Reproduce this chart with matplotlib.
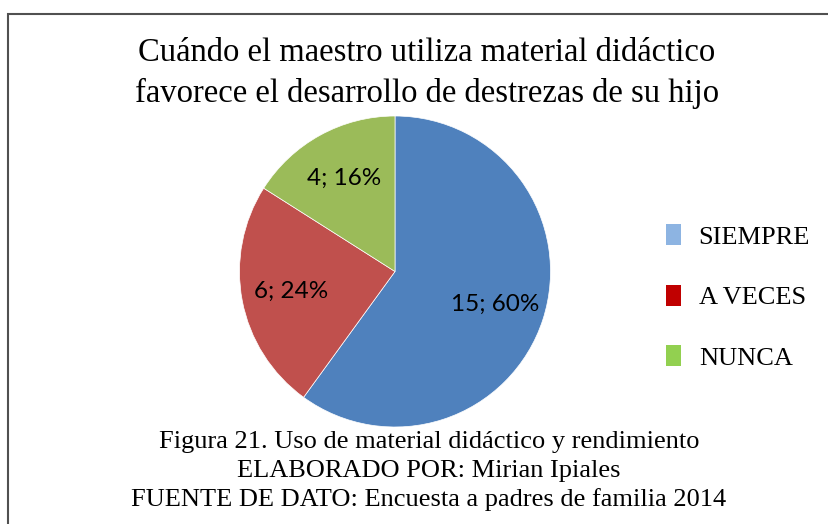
import matplotlib
matplotlib.use("Agg")
import matplotlib.pyplot as plt
from matplotlib.patches import Patch, Rectangle

# data
categories = ["SIEMPRE", "A VECES", "NUNCA"]
values = [15, 6, 4]
pie_colors = ["#4F81BD", "#C0504D", "#9BBB59"]
legend_colors = ["#8DB4E2", "#C00000", "#92D050"]

title = "Cuándo el maestro utiliza material didáctico\nfavorece el desarrollo de destrezas de su hijo"
caption = ["Figura 21. Uso de material didáctico y rendimiento",
           "ELABORADO POR: Mirian Ipiales",
           "FUENTE DE DATO: Encuesta a padres de familia 2014"]

W, H = 829, 524
fig = plt.figure(figsize=(W / 100, H / 100), dpi=100)
fig.patch.set_facecolor("white")

serif = "Liberation Serif"
total = sum(values)

# pie axes: center ~(395, 271), radius ~155 px
ax = fig.add_axes([239.5 / W, 97 / H, 311 / W, 311 / H])
wedges, texts, autotexts = ax.pie(
    values, colors=pie_colors, startangle=90, counterclock=False,
    autopct=lambda p: f"{round(p * total / 100)}; {p:.0f}%",
    pctdistance=0.68, radius=1,
    wedgeprops=dict(linewidth=0.5, edgecolor="white"),
    textprops=dict(family="Lato", fontsize=17.5, color="black"))
ax.set_xlim(-1, 1)
ax.set_ylim(-1, 1)
ax.set_aspect("equal")

# title
fig.text(427 / W, 1 - 73 / H, title, ha="center", va="center",
         family=serif, fontsize=23.5, linespacing=1.4)

# caption
for i, line in enumerate(caption):
    fig.text(429 / W, 1 - (442 + 29 * i) / H, line, ha="center", va="center",
             family=serif, fontsize=19)

# legend
handles = [Patch(facecolor=c, edgecolor="none") for c in legend_colors]
fig.legend(handles, categories, loc="center left",
           bbox_to_anchor=(666 / W, 1 - 297 / H), frameon=False,
           prop=dict(family=serif, size=19),
           handlelength=0.58, handleheight=0.85, handletextpad=0.66,
           labelspacing=1.35, borderpad=0, borderaxespad=0)

# outer border (only top/left visible)
fig.patches.append(Rectangle((8 / W, -0.2), 1.2, 1.2 - 14 / H,
                             transform=fig.transFigure, fill=False,
                             edgecolor="#505050", linewidth=1.5))

fig.savefig("out.png", dpi=100, facecolor="white")
